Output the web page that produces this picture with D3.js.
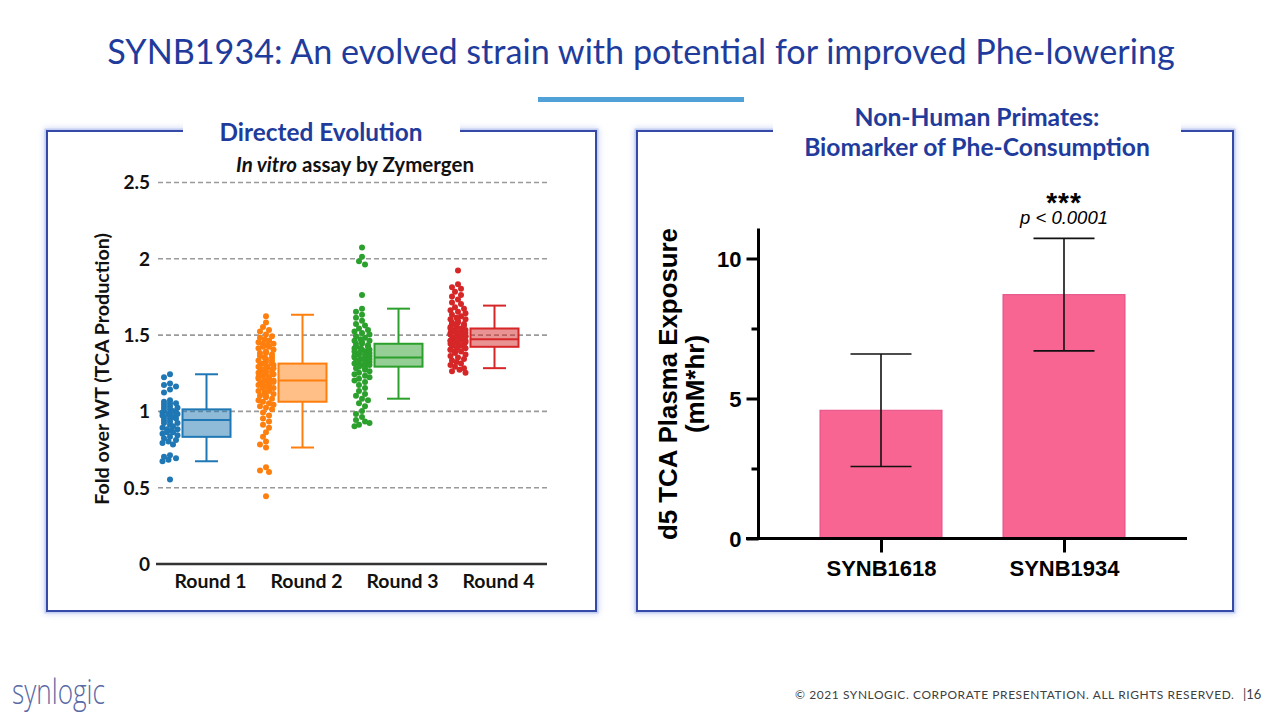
<!DOCTYPE html>
<html>
<head>
<meta charset="utf-8">
<script src="https://cdn.jsdelivr.net/npm/d3@7"></script>
<style>
  html, body { margin: 0; padding: 0; background: #ffffff; }
  svg { display: block; }
</style>
</head>
<body>
<svg id="chart" width="1280" height="720"></svg>
<script>
// ---------------- DATA ----------------
const rounds = ["Round 1", "Round 2", "Round 3", "Round 4"];
const roundColors = ["#1f77b4", "#ff7f0e", "#2ca02c", "#d62728"];
const leftTicks = [0, 0.5, 1, 1.5, 2, 2.5];
const leftTickLabels = ["0", "0.5", "1", "1.5", "2", "2.5"];

const round1Points = [1.24, 1.22, 1.18, 1.17, 1.16, 1.14, 1.12, 1.07, 1.06, 1.05, 1.05, 1.04, 1.03, 1.02, 1.02,
  1.01, 1.00, 1.00, 0.99, 0.99, 0.98, 0.98, 0.97, 0.97, 0.96, 0.96, 0.95, 0.95, 0.94, 0.93, 0.92, 0.92, 0.91,
  0.90, 0.89, 0.88, 0.88, 0.87, 0.86, 0.86, 0.85, 0.84, 0.83, 0.82, 0.81, 0.80, 0.79, 0.78, 0.71, 0.70, 0.69,
  0.68, 0.67, 0.55];
const round2Points = [1.62, 1.58, 1.55, 1.53, 1.52, 1.50, 1.49, 1.48, 1.47, 1.46, 1.46, 1.45, 1.44, 1.44, 1.43,
  1.42, 1.42, 1.41, 1.40, 1.39, 1.38, 1.38, 1.37, 1.36, 1.35, 1.35, 1.34, 1.33, 1.33, 1.32, 1.31, 1.31, 1.30,
  1.30, 1.29, 1.29, 1.28, 1.28, 1.27, 1.27, 1.26, 1.26, 1.25, 1.25, 1.24, 1.24, 1.23, 1.23, 1.22, 1.22, 1.21,
  1.21, 1.20, 1.20, 1.19, 1.19, 1.18, 1.18, 1.17, 1.17, 1.16, 1.15, 1.15, 1.14, 1.13, 1.13, 1.12, 1.11, 1.10,
  1.10, 1.09, 1.08, 1.07, 1.06, 1.05, 1.04, 1.03, 1.02, 1.01, 0.99, 0.97, 0.95, 0.93, 0.91, 0.89, 0.86, 0.83,
  0.80, 0.78, 0.76, 0.63, 0.61, 0.60, 0.44];
const round3Points = [2.07, 2.01, 1.98, 1.96, 1.76, 1.67, 1.65, 1.63, 1.61, 1.59, 1.57, 1.56, 1.54, 1.53, 1.52,
  1.51, 1.50, 1.49, 1.48, 1.47, 1.46, 1.46, 1.45, 1.44, 1.44, 1.43, 1.42, 1.42, 1.41, 1.41, 1.40, 1.40, 1.39,
  1.39, 1.38, 1.38, 1.37, 1.37, 1.36, 1.36, 1.35, 1.35, 1.34, 1.34, 1.33, 1.33, 1.32, 1.32, 1.31, 1.31, 1.30,
  1.30, 1.29, 1.28, 1.28, 1.27, 1.26, 1.25, 1.24, 1.23, 1.22, 1.21, 1.20, 1.19, 1.17, 1.15, 1.13, 1.11, 1.10,
  1.08, 1.07, 1.05, 1.03, 1.00, 0.98, 0.96, 0.94, 0.93, 0.92, 0.91, 0.90];
const round4Points = [1.92, 1.83, 1.81, 1.80, 1.78, 1.76, 1.75, 1.73, 1.71, 1.70, 1.68, 1.67, 1.66, 1.65, 1.64,
  1.63, 1.62, 1.61, 1.60, 1.60, 1.59, 1.58, 1.58, 1.57, 1.57, 1.56, 1.56, 1.55, 1.55, 1.54, 1.54, 1.53, 1.53,
  1.52, 1.52, 1.52, 1.51, 1.51, 1.51, 1.50, 1.50, 1.50, 1.49, 1.49, 1.49, 1.48, 1.48, 1.48, 1.47, 1.47, 1.47,
  1.46, 1.46, 1.46, 1.45, 1.45, 1.45, 1.44, 1.44, 1.44, 1.43, 1.43, 1.43, 1.42, 1.42, 1.41, 1.41, 1.40, 1.40,
  1.39, 1.39, 1.38, 1.37, 1.36, 1.35, 1.34, 1.33, 1.32, 1.31, 1.30, 1.29, 1.28, 1.27, 1.26, 1.25];

const boxLow    = [0.67, 0.76, 1.08, 1.28];
const boxQ1     = [0.83, 1.06, 1.29, 1.42];
const boxMedian = [0.94, 1.20, 1.35, 1.47];
const boxQ3     = [1.01, 1.31, 1.44, 1.54];
const boxHigh   = [1.24, 1.63, 1.67, 1.69];

const strains = ["SYNB1618", "SYNB1934"];
const exposureMean = [4.58, 8.71];
const exposureErr = [2.01, 2.01];
const rightTicks = [0, 5, 10];
const rightMinorTicks = [2.5, 7.5];

// ---------------- HELPERS ----------------
const svg = d3.select("#chart");
const NAVY = "#1f3c9c";
const CAL = "Lato, 'Open Sans', sans-serif";
const ARIAL = "'Liberation Sans', Arial, sans-serif";

function fit(sel, w) {
  const n = sel.node();
  const l = n.getComputedTextLength();
  const fs = parseFloat(sel.attr("font-size"));
  if (l > 0) sel.attr("font-size", fs * w / l);
  return sel;
}

// ---------------- SLIDE TITLE ----------------
fit(svg.append("text").attr("x", 641).attr("y", 64).attr("text-anchor", "middle")
  .attr("font-family", CAL).attr("font-size", 32).attr("fill", NAVY)
  .text("SYNB1934: An evolved strain with potential for improved Phe-lowering"), 1068);

svg.append("rect").attr("x", 538).attr("y", 97).attr("width", 206).attr("height", 5).attr("fill", "#4fa1d8");

// ---------------- PANEL FRAMES ----------------
const defs = svg.append("defs");
const glow = defs.append("filter").attr("id", "glow").attr("x", "-10%").attr("y", "-10%").attr("width", "120%").attr("height", "120%");
glow.append("feGaussianBlur").attr("in", "SourceGraphic").attr("stdDeviation", 3).attr("result", "b");
const fm = glow.append("feMerge");
fm.append("feMergeNode").attr("in", "b");
fm.append("feMergeNode").attr("in", "SourceGraphic");

const frames = [
  {x: 47, y: 131, w: 549, h: 480, gap: [183, 460]},
  {x: 637, y: 131, w: 596, h: 480, gap: [773, 1181]}
];
frames.forEach(f => {
  svg.append("rect").attr("x", f.x).attr("y", f.y).attr("width", f.w).attr("height", f.h)
    .attr("fill", "none").attr("stroke", "#c5cff2").attr("stroke-width", 5).attr("filter", "url(#glow)");
  svg.append("rect").attr("x", f.x).attr("y", f.y).attr("width", f.w).attr("height", f.h)
    .attr("fill", "#ffffff").attr("stroke", "#3449a8").attr("stroke-width", 2);
  svg.append("rect").attr("x", f.gap[0]).attr("y", 112).attr("width", f.gap[1] - f.gap[0]).attr("height", 26)
    .attr("fill", "#ffffff");
});

fit(svg.append("text").attr("x", 321).attr("y", 141).attr("text-anchor", "middle")
  .attr("font-family", CAL).attr("font-weight", "bold").attr("font-size", 22).attr("fill", NAVY)
  .text("Directed Evolution"), 203);
fit(svg.append("text").attr("x", 977).attr("y", 126).attr("text-anchor", "middle")
  .attr("font-family", CAL).attr("font-weight", "bold").attr("font-size", 22).attr("fill", NAVY)
  .text("Non-Human Primates:"), 245);
fit(svg.append("text").attr("x", 977).attr("y", 156).attr("text-anchor", "middle")
  .attr("font-family", CAL).attr("font-weight", "bold").attr("font-size", 22).attr("fill", NAVY)
  .text("Biomarker of Phe-Consumption"), 346);

// ---------------- LEFT CHART ----------------
const gL = svg.append("g");
const yL = d3.scaleLinear().domain([0, 2.5]).range([563.5, 182]);
const xL = d3.scalePoint().domain(rounds).range([210, 498]);
const gridLeft = 158, gridRight = 547;

const axL = gL.append("g").attr("transform", `translate(${gridLeft},0)`)
  .call(d3.axisLeft(yL).tickValues(leftTicks).tickFormat((d, i) => leftTickLabels[i])
    .tickSize(-(gridRight - gridLeft)).tickPadding(8));
axL.select(".domain").remove();
axL.selectAll(".tick line")
  .attr("stroke", d => d === 0 ? "#333333" : "#9a9a9a")
  .attr("stroke-width", d => d === 0 ? 2.5 : 1.6)
  .attr("stroke-dasharray", d => d === 0 ? null : "5,3")
  .attr("x1", d => d === 0 ? -2 : 0);
axL.selectAll(".tick text").attr("font-family", CAL).attr("font-weight", "bold")
  .attr("font-size", 19).attr("fill", "#111").attr("dy", "0.36em");

const axLx = gL.append("g").attr("transform", `translate(0,${yL(0)})`)
  .call(d3.axisBottom(xL).tickSize(0).tickPadding(0));
axLx.select(".domain").remove();
axLx.selectAll(".tick text").attr("font-family", CAL).attr("font-weight", "bold")
  .attr("font-size", 20).attr("fill", "#111").attr("y", 24).attr("dy", 0);
axLx.selectAll(".tick text").each(function() { fit(d3.select(this), 72); });

fit(gL.append("text").attr("transform", `translate(109,369) rotate(-90)`).attr("text-anchor", "middle")
  .attr("font-family", CAL).attr("font-weight", "bold").attr("font-size", 17).attr("fill", "#111")
  .text("Fold over WT (TCA Production)"), 272);

const sub = gL.append("text").attr("x", 355).attr("y", 172).attr("text-anchor", "middle")
  .attr("font-family", CAL).attr("font-weight", "bold").attr("font-size", 17).attr("fill", "#111");
sub.append("tspan").attr("font-style", "italic").text("In vitro");
sub.append("tspan").text(" assay by Zymergen");
fit(sub, 238);

// strip points (simple swarm placement)
const allPoints = [round1Points, round2Points, round3Points, round4Points];
const offsets = [0, -3, 3, -6, 6, -7.5, 7.5, -1.5, 1.5, -4.5, 4.5];
allPoints.forEach((vals, i) => {
  const cx0 = xL(rounds[i]) - 40;
  const placed = [];
  const pts = vals.map(v => {
    const y = yL(v);
    let best = 0, bestCount = Infinity;
    for (const o of offsets) {
      let c = 0;
      for (const p of placed) {
        const dx = p.o - o, dy = p.y - y;
        if (dx * dx + dy * dy < 22) c++;
      }
      if (c === 0) { best = o; bestCount = 0; break; }
      if (c < bestCount) { bestCount = c; best = o; }
    }
    placed.push({o: best, y});
    return {x: cx0 + best, y};
  });
  gL.append("g").selectAll("circle").data(pts).join("circle")
    .attr("cx", d => d.x).attr("cy", d => d.y).attr("r", 3)
    .attr("fill", roundColors[i]);
});

// box plots
const boxW = 48, capW = 23;
rounds.forEach((r, i) => {
  const cx = xL(r) - 3.5;
  const c = roundColors[i];
  const g = gL.append("g").attr("stroke", c).attr("stroke-width", 2);
  g.append("line").attr("x1", cx).attr("x2", cx).attr("y1", yL(boxHigh[i])).attr("y2", yL(boxQ3[i]));
  g.append("line").attr("x1", cx).attr("x2", cx).attr("y1", yL(boxQ1[i])).attr("y2", yL(boxLow[i]));
  g.append("line").attr("x1", cx - capW / 2).attr("x2", cx + capW / 2).attr("y1", yL(boxHigh[i])).attr("y2", yL(boxHigh[i]));
  g.append("line").attr("x1", cx - capW / 2).attr("x2", cx + capW / 2).attr("y1", yL(boxLow[i])).attr("y2", yL(boxLow[i]));
  g.append("rect").attr("x", cx - boxW / 2).attr("width", boxW)
    .attr("y", yL(boxQ3[i])).attr("height", yL(boxQ1[i]) - yL(boxQ3[i]))
    .attr("fill", d3.color(c).copy({opacity: 0.5}));
  g.append("line").attr("x1", cx - boxW / 2).attr("x2", cx + boxW / 2)
    .attr("y1", yL(boxMedian[i])).attr("y2", yL(boxMedian[i]));
});

// ---------------- RIGHT CHART ----------------
const gR = svg.append("g");
const yR = d3.scaleLinear().domain([0, 10]).range([538.5, 258.5]);
const xR = d3.scalePoint().domain(strains).range([881, 1064]);
const axisX = 758.5, barW = 122, errCap = 61;

// bars
gR.selectAll("rect.bar").data(strains).join("rect").attr("class", "bar")
  .attr("x", d => xR(d) - barW / 2).attr("width", barW)
  .attr("y", (d, i) => yR(exposureMean[i])).attr("height", (d, i) => yR(0) - yR(exposureMean[i]))
  .attr("fill", "#f86592").attr("stroke", "#e14f86").attr("stroke-width", 1);

// error bars
strains.forEach((s, i) => {
  const cx = xR(s);
  const hi = exposureMean[i] + exposureErr[i], lo = exposureMean[i] - exposureErr[i];
  const g = gR.append("g").attr("stroke", "#111").attr("stroke-width", 1.6);
  g.append("line").attr("x1", cx).attr("x2", cx).attr("y1", yR(hi)).attr("y2", yR(lo));
  g.append("line").attr("x1", cx - errCap / 2).attr("x2", cx + errCap / 2).attr("y1", yR(hi)).attr("y2", yR(hi));
  g.append("line").attr("x1", cx - errCap / 2).attr("x2", cx + errCap / 2).attr("y1", yR(lo)).attr("y2", yR(lo));
});

// y axis
const axR = gR.append("g").attr("transform", `translate(${axisX},0)`)
  .call(d3.axisLeft(yR).tickValues(rightTicks).tickSize(12).tickPadding(5).tickFormat(d3.format("d")));
axR.select(".domain").remove();
axR.selectAll(".tick line").attr("stroke", "#000").attr("stroke-width", 3);
axR.selectAll(".tick text").attr("font-family", ARIAL).attr("font-weight", "bold")
  .attr("font-size", 22).attr("fill", "#000").attr("dy", "0.36em");
const axRm = gR.append("g").attr("transform", `translate(${axisX},0)`)
  .call(d3.axisLeft(yR).tickValues(rightMinorTicks).tickSize(7).tickFormat(""));
axRm.select(".domain").remove();
axRm.selectAll(".tick line").attr("stroke", "#000").attr("stroke-width", 3);
gR.append("line").attr("x1", axisX).attr("x2", axisX).attr("y1", yR(0) + 1.5).attr("y2", yR(11.07))
  .attr("stroke", "#000").attr("stroke-width", 3);

// x axis
const axRx = gR.append("g").attr("transform", `translate(0,${yR(0)})`)
  .call(d3.axisBottom(xR).tickSize(14).tickPadding(0));
axRx.select(".domain").remove();
axRx.selectAll(".tick line").attr("stroke", "#000").attr("stroke-width", 3);
axRx.selectAll(".tick text").attr("font-family", ARIAL).attr("font-weight", "bold")
  .attr("font-size", 22).attr("fill", "#000").attr("y", 37).attr("dy", 0);
gR.append("line").attr("x1", 746).attr("x2", 1187).attr("y1", yR(0)).attr("y2", yR(0))
  .attr("stroke", "#000").attr("stroke-width", 3);

// y title
fit(gR.append("text").attr("transform", "translate(677,384) rotate(-90)").attr("text-anchor", "middle")
  .attr("font-family", ARIAL).attr("font-weight", "bold").attr("font-size", 25).attr("fill", "#000")
  .text("d5 TCA Plasma Exposure"), 312);
gR.append("text").attr("transform", "translate(704,384) rotate(-90)").attr("text-anchor", "middle")
  .attr("font-family", ARIAL).attr("font-weight", "bold").attr("font-size", 26).attr("fill", "#000")
  .text("(mM*hr)");

// significance
gR.append("text").attr("x", xR(strains[1])).attr("y", 212).attr("text-anchor", "middle")
  .attr("font-family", ARIAL).attr("font-weight", "bold").attr("font-size", 28).attr("letter-spacing", 1)
  .attr("fill", "#000").text("***");
fit(gR.append("text").attr("x", xR(strains[1])).attr("y", 224).attr("text-anchor", "middle")
  .attr("font-family", ARIAL).attr("font-style", "italic").attr("font-size", 17).attr("fill", "#000")
  .text("p < 0.0001"), 88);

// ---------------- FOOTER ----------------
svg.append("text").attr("x", 12).attr("y", 704)
  .attr("font-family", "'Open Sans', sans-serif").attr("font-weight", 300).attr("font-size", 34)
  .attr("fill", "#5a6aa6").attr("textLength", 93).attr("lengthAdjust", "spacingAndGlyphs")
  .text("synlogic");
fit(svg.append("text").attr("x", 795).attr("y", 699)
  .attr("font-family", CAL).attr("font-size", 13).attr("letter-spacing", 0.6).attr("fill", "#404040")
  .text("© 2021 SYNLOGIC. CORPORATE PRESENTATION. ALL RIGHTS RESERVED."), 437);
svg.append("text").attr("x", 1243).attr("y", 699)
  .attr("font-family", CAL).attr("font-size", 13).attr("fill", "#404040")
  .text("|16");
</script>
</body>
</html>
